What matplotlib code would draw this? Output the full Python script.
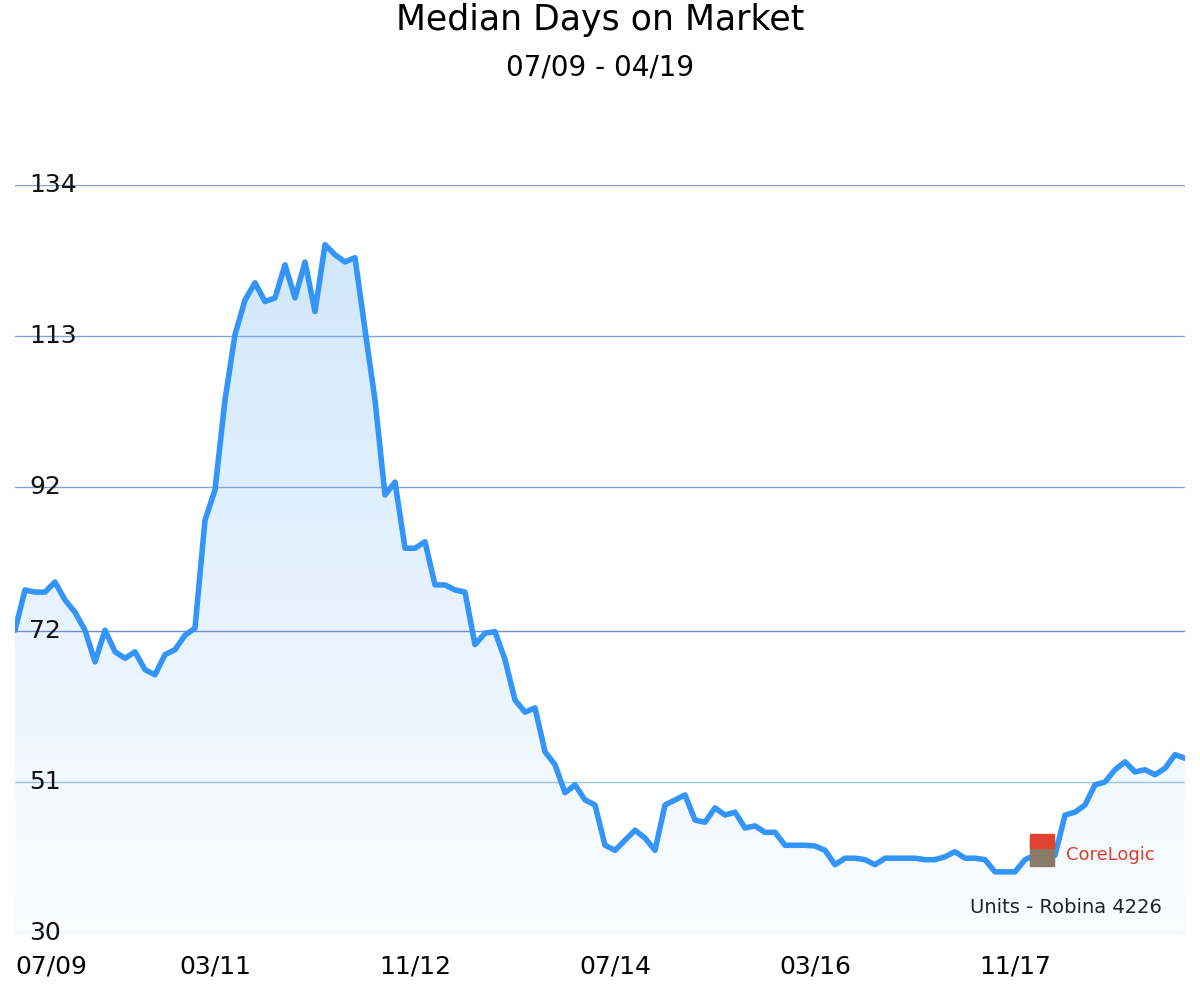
import numpy as np
import matplotlib.pyplot as plt
from matplotlib.transforms import blended_transform_factory
from matplotlib.colors import LinearSegmentedColormap

values = [72.1,77.7,77.4,77.4,78.8,76.3,74.6,72.1,67.7,72.1,69.1,68.2,69.1,66.6,65.9,68.7,69.4,71.4,72.4,87.4,
          91.6,104.1,113.2,118,120.4,117.8,118.3,122.9,118.3,123.3,116.4,125.7,124.3,123.3,123.9,113.9,104.1,90.9,92.7,83.5,
          83.5,84.4,78.4,78.4,77.7,77.4,70.1,71.7,71.9,68,62.4,60.7,61.3,55.2,53.4,49.5,50.6,48.5,47.8,42.2,
          41.5,42.9,44.3,43.2,41.5,47.8,48.5,49.2,45.7,45.4,47.4,46.4,46.8,44.6,44.9,44,44,42.2,42.2,42.2,
          42.1,41.5,39.5,40.4,40.4,40.2,39.5,40.4,40.4,40.4,40.4,40.2,40.2,40.6,41.3,40.4,40.4,40.2,38.5,38.5,
          38.5,40.2,40.8,40.4,40.8,46.4,46.8,47.8,50.6,51,52.7,53.8,52.4,52.7,52,52.9,54.8,54.3]
ytick_vals = [30, 51, 72, 92, 113, 134]
xtick_pos = [0, 20, 40, 60, 80, 100]
xtick_labels = ["07/09", "03/11", "11/12", "07/14", "03/16", "11/17"]

W, H = 1200, 996
fig = plt.figure(figsize=(12, 9.96), dpi=100)
ax = fig.add_axes([15/W, 1-933/H, 1170/W, 748/H])
x = np.arange(len(values))
ax.set_xlim(0, len(values)-1)
ax.set_ylim(30, 134)
for s in ax.spines.values():
    s.set_visible(False)
ax.set_xticks([]); ax.set_yticks([])

ytr = blended_transform_factory(ax.transAxes, ax.transData)
gridcols = ['#9cc3ec', '#9cc3ec', '#6f8fc8', '#7aa6dc', '#7aa6dc', '#7aa6dc']
for v, c in zip(ytick_vals, gridcols):
    ax.axhline(v, color=c, lw=1.0, zorder=1)
    ax.text(0.012, v, str(v), transform=ytr, fontsize=18, ha='left', va='center', color='#111', zorder=4)

grad = np.linspace(0, 1, 256).reshape(-1, 1)
cmap = LinearSegmentedColormap.from_list('g', ['#fbfdff', '#cfe7fb'])
im = ax.imshow(grad, extent=[0, len(values)-1, 30, 128], origin='lower', aspect='auto', cmap=cmap, zorder=0.5)
poly = ax.fill_between(x, values, 30, color='none')
im.set_clip_path(poly.get_paths()[0], transform=ax.transData)
ax.plot(x, values, color='#3395fa', lw=4, solid_joinstyle='round', solid_capstyle='round', zorder=3)

fig.text(0.5, 1-20/H, "Median Days on Market", ha='center', va='center', fontsize=25)
fig.text(0.5, 1-67/H, "07/09 - 04/19", ha='center', va='center', fontsize=20)
tr = blended_transform_factory(ax.transData, fig.transFigure)
for p, l in zip(xtick_pos, xtick_labels):
    ha = 'left' if p == 0 else 'center'
    ax.text(p, 1-966/H, l, transform=tr, ha=ha, va='center', fontsize=18)
fig.text(1162/W, 1-907/H, "Units - Robina 4226", ha='right', va='center', fontsize=14, color='#222')
fig.patches.append(plt.Rectangle((1030/W, 1-866/H), 24/W, 26/H, transform=fig.transFigure, color='#8a7a6a', zorder=5))
fig.patches.append(plt.Rectangle((1030/W, 1-848/H), 24/W, 14/H, transform=fig.transFigure, color='#e0432f', zorder=5))
fig.text(1066/W, 1-855/H, "CoreLogic", ha='left', va='center', fontsize=13, color='#d9402c')
fig.savefig('out.png', dpi=100, facecolor='white')
